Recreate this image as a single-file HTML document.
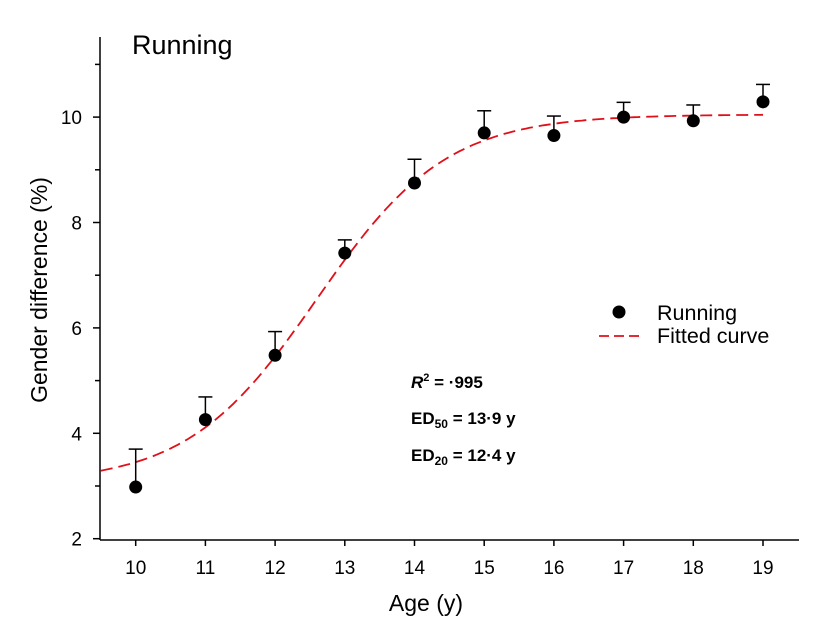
<!DOCTYPE html>
<html><head><style>
html,body{margin:0;padding:0;background:#fff;}
svg{display:block;font-family:"Liberation Sans",Arial,sans-serif;}
</style></head><body>
<svg id="s" width="818" height="639" viewBox="0 0 818 639" xmlns="http://www.w3.org/2000/svg">
<rect width="818" height="639" fill="#fff"/>
<g stroke="#000" stroke-width="1.5" fill="none">
<line x1="100" y1="37" x2="100" y2="540"/>
<line x1="100" y1="540" x2="799" y2="540"/>
</g>
<g id="ticks" stroke="#000" stroke-width="1.5"></g>
<g id="lbl" font-size="19" fill="#000"></g>
<path id="curve" fill="none" stroke="#e0101a" stroke-width="1.8" stroke-dasharray="12,6"/>
<g id="pts"></g>
<text x="132" y="54" font-size="27">Running</text>
<text x="426" y="611" font-size="23" text-anchor="middle">Age (y)</text>
<text transform="translate(47,290) rotate(-90)" font-size="23" text-anchor="middle">Gender difference (%)</text>
<circle cx="619" cy="312" r="6.5" fill="#000"/>
<text x="657" y="320" font-size="21.5">Running</text>
<line x1="599" y1="336" x2="644" y2="336" stroke="#e0101a" stroke-width="1.8" stroke-dasharray="10,5"/>
<text x="657" y="343" font-size="21.5">Fitted curve</text>
<g font-size="17" font-weight="bold">
<text x="411" y="388"><tspan font-style="italic">R</tspan><tspan font-size="11" dy="-7">2</tspan><tspan dy="7"> = ·995</tspan></text>
<text x="411" y="424">ED<tspan font-size="12" dy="4">50</tspan><tspan dy="-4"> = 13·9 y</tspan></text>
<text x="411" y="461">ED<tspan font-size="12" dy="4">20</tspan><tspan dy="-4"> = 12·4 y</tspan></text>
</g>
</svg>
<script>
var ns="http://www.w3.org/2000/svg";
function X(a){return 135.7+69.7*(a-10);}
function Y(v){return 538.7-52.7*(v-2);}
function el(t,at,p){var e=document.createElementNS(ns,t);for(var k in at)e.setAttribute(k,at[k]);p.appendChild(e);return e;}
var tk=document.getElementById('ticks'),lb=document.getElementById('lbl');
for(var a=10;a<=19;a++){el('line',{x1:X(a),y1:540,x2:X(a),y2:546},tk);var t=el('text',{x:X(a),y:574,'text-anchor':'middle'},lb);t.textContent=a;}
for(var v=3;v<=11;v++){var major=v%2==0;el('line',{x1:major?93:95,y1:Y(v),x2:100,y2:Y(v)},tk);if(major){var t=el('text',{x:82,y:Y(v)+7,'text-anchor':'end'},lb);t.textContent=v;}}
var t=el('text',{x:82,y:Y(2)+7,'text-anchor':'end'},lb);t.textContent=2;el('line',{x1:93,y1:Y(2),x2:100,y2:Y(2)},tk);
var d="";for(var a=9.5;a<=19.001;a+=0.05){var v=3.05+7.0/(1+Math.exp(-(a-12.6)/0.93));d+=(d?"L":"M")+X(a).toFixed(1)+","+Y(v).toFixed(1);}
document.getElementById('curve').setAttribute('d',d);
var data=[[10,2.98,3.70],[11,4.26,4.69],[12,5.48,5.93],[13,7.42,7.67],[14,8.75,9.2],[15,9.7,10.12],[16,9.65,10.02],[17,10.0,10.28],[18,9.93,10.23],[19,10.29,10.62]];
var g=document.getElementById('pts');
data.forEach(function(p){var x=X(p[0]);el('line',{x1:x,y1:Y(p[1]),x2:x,y2:Y(p[2]),stroke:'#000','stroke-width':1.5},g);el('line',{x1:x-7,y1:Y(p[2]),x2:x+7,y2:Y(p[2]),stroke:'#000','stroke-width':1.5},g);el('circle',{cx:x,cy:Y(p[1]),r:6.5,fill:'#000'},g);});
</script>
</body></html>
